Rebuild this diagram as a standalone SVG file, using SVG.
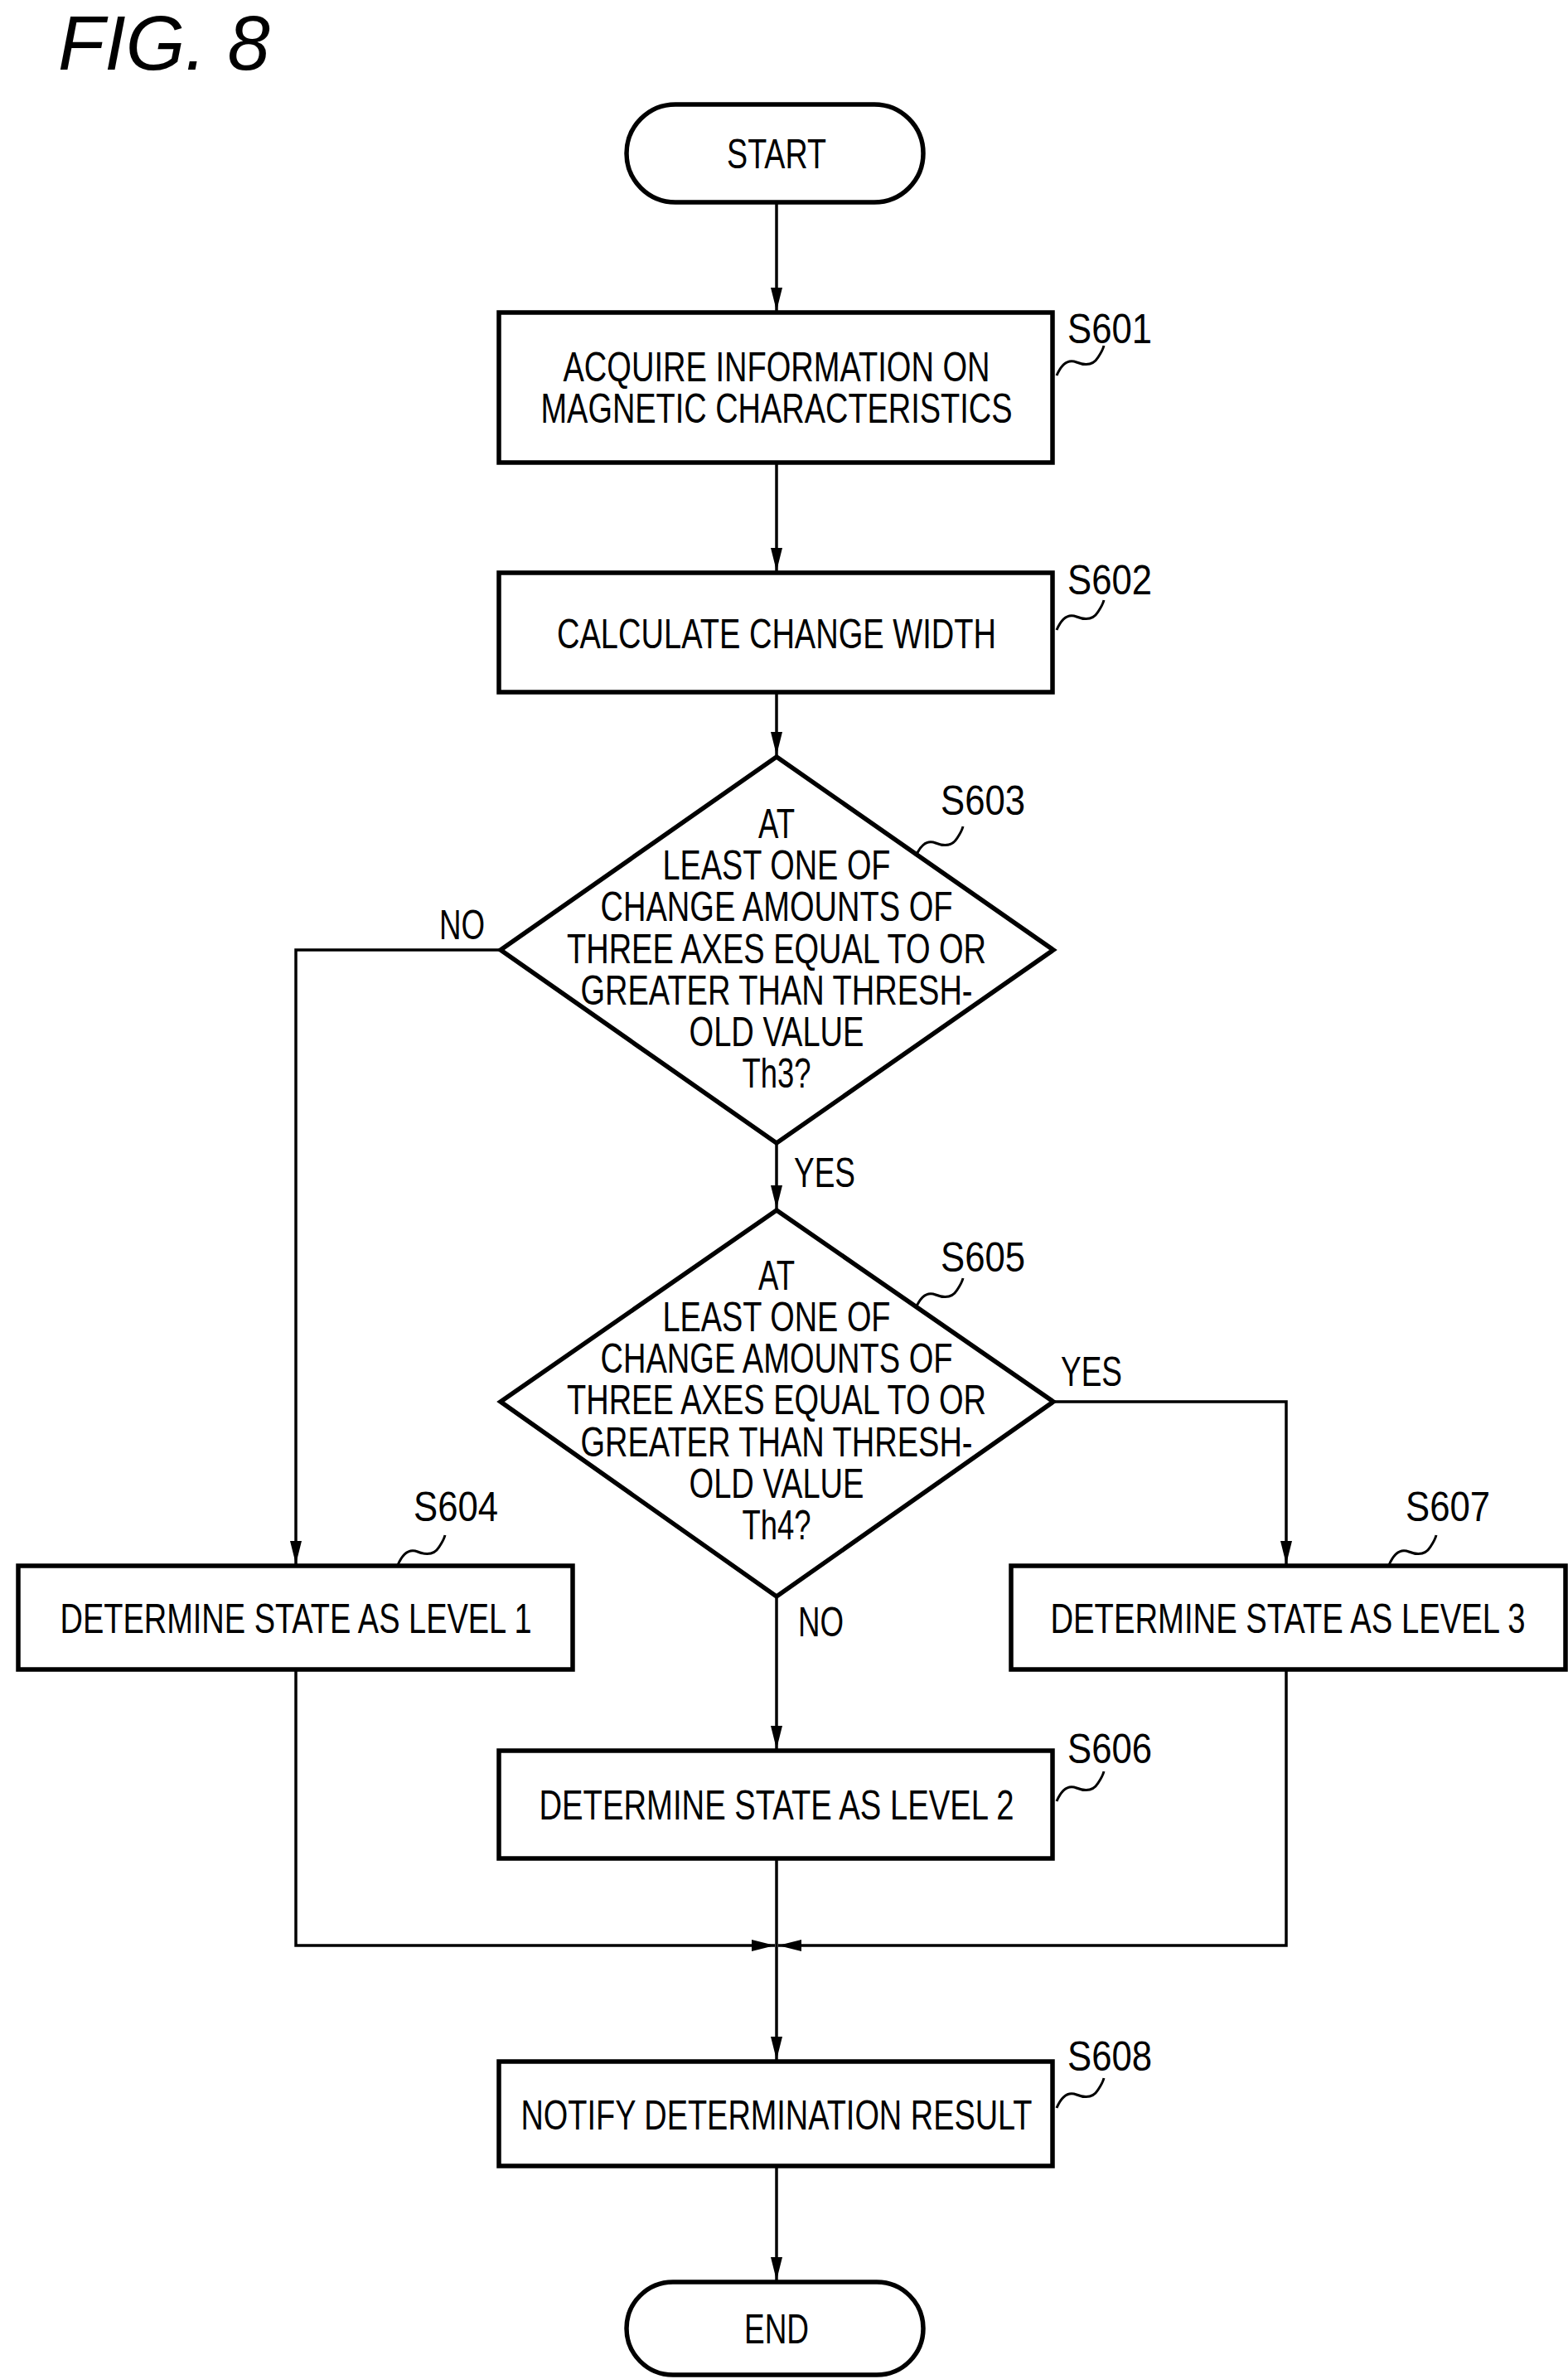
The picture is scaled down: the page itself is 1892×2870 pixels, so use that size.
<svg xmlns="http://www.w3.org/2000/svg" width="1892" height="2870" viewBox="0 0 1892 2870">
<defs>
<style>
.s{fill:#fff;stroke:#000;stroke-width:5.5}
.c{fill:none;stroke:#000;stroke-width:3.5}
.q{fill:none;stroke:#000;stroke-width:3}
text{font-family:"Liberation Sans",Arial,sans-serif;font-size:50px;fill:#000}
.m{text-anchor:middle}
</style>
<marker id="a" viewBox="0 0 10 10" refX="10" refY="5" markerWidth="6" markerHeight="6" markerUnits="userSpaceOnUse" orient="auto"><path d="M0,0L10,5L0,10z" fill="#000"/></marker>
<marker id="ar" viewBox="0 0 10 10" refX="10" refY="5" markerWidth="28" markerHeight="14" markerUnits="userSpaceOnUse" orient="auto" preserveAspectRatio="none"><path d="M0,0L10,5L0,10z" fill="#000"/></marker>
<path id="sq" d="M0,0 C6,-14 14,-20 24,-16 C34,-12 44,-12 50,-22 C54,-28 56,-32 57,-36"/>
</defs>
<rect width="1892" height="2870" fill="#fff"/>
<text x="70" y="84" style="font-size:92px;font-style:italic">FIG. 8</text>
<g id="connectors">
<path class="c" d="M937,244V375" marker-end="url(#ar)"/>
<path class="c" d="M937,558V689" marker-end="url(#ar)"/>
<path class="c" d="M937,835V911" marker-end="url(#ar)"/>
<path class="c" d="M937,1379V1458" marker-end="url(#ar)"/>
<path class="c" d="M604,1146H357V1887" marker-end="url(#ar)"/>
<path class="c" d="M1271,1691H1552V1887" marker-end="url(#ar)"/>
<path class="c" d="M937,1926V2110" marker-end="url(#ar)"/>
<path class="c" d="M357,2014V2347H935" marker-end="url(#ar)"/>
<path class="c" d="M1552,2014V2347H939" marker-end="url(#ar)"/>
<path class="c" d="M937,2242V2485" marker-end="url(#ar)"/>
<path class="c" d="M937,2613V2751" marker-end="url(#ar)"/>
<text x="958" y="1432" textLength="74" lengthAdjust="spacingAndGlyphs">YES</text>
<text x="530" y="1133" textLength="55" lengthAdjust="spacingAndGlyphs">NO</text>
<text x="1280" y="1672" textLength="74" lengthAdjust="spacingAndGlyphs">YES</text>
<text x="963" y="1974" textLength="55" lengthAdjust="spacingAndGlyphs">NO</text>
</g>
<g id="start"><rect class="s" x="756" y="126" width="358" height="118" rx="59"/><text class="m" x="937" y="203" textLength="120" lengthAdjust="spacingAndGlyphs">START</text></g>
<g id="s601"><rect class="s" x="602" y="377" width="668" height="181"/>
<text class="m" x="937" y="460" textLength="515" lengthAdjust="spacingAndGlyphs">ACQUIRE INFORMATION ON</text>
<text class="m" x="937" y="510" textLength="569" lengthAdjust="spacingAndGlyphs">MAGNETIC CHARACTERISTICS</text>
<use href="#sq" class="q" x="1275" y="453"/><text x="1288" y="414" textLength="102" lengthAdjust="spacingAndGlyphs">S601</text></g>
<g id="s602"><rect class="s" x="602" y="691" width="668" height="144"/>
<text class="m" x="937" y="782" textLength="530" lengthAdjust="spacingAndGlyphs">CALCULATE CHANGE WIDTH</text>
<use href="#sq" class="q" x="1275" y="760"/><text x="1288" y="717" textLength="102" lengthAdjust="spacingAndGlyphs">S602</text></g>
<g id="s603"><path class="s" d="M937,913L1271,1146L937,1379L604,1146Z"/>
<text class="m" x="937" y="1011" textLength="44" lengthAdjust="spacingAndGlyphs">AT</text>
<text class="m" x="937" y="1061" textLength="275" lengthAdjust="spacingAndGlyphs">LEAST ONE OF</text>
<text class="m" x="937" y="1111" textLength="425" lengthAdjust="spacingAndGlyphs">CHANGE AMOUNTS OF</text>
<text class="m" x="937" y="1162" textLength="506" lengthAdjust="spacingAndGlyphs">THREE AXES EQUAL TO OR</text>
<text class="m" x="937" y="1212" textLength="473" lengthAdjust="spacingAndGlyphs">GREATER THAN THRESH-</text>
<text class="m" x="937" y="1262" textLength="211" lengthAdjust="spacingAndGlyphs">OLD VALUE</text>
<text class="m" x="937" y="1312" textLength="83" lengthAdjust="spacingAndGlyphs">Th3?</text>
<use href="#sq" class="q" x="1105" y="1033"/><text x="1135" y="983" textLength="102" lengthAdjust="spacingAndGlyphs">S603</text></g>
<g id="s605"><path class="s" d="M937,1460L1271,1691L937,1926L604,1691Z"/>
<text class="m" x="937" y="1556" textLength="44" lengthAdjust="spacingAndGlyphs">AT</text>
<text class="m" x="937" y="1606" textLength="275" lengthAdjust="spacingAndGlyphs">LEAST ONE OF</text>
<text class="m" x="937" y="1656" textLength="425" lengthAdjust="spacingAndGlyphs">CHANGE AMOUNTS OF</text>
<text class="m" x="937" y="1706" textLength="506" lengthAdjust="spacingAndGlyphs">THREE AXES EQUAL TO OR</text>
<text class="m" x="937" y="1757" textLength="473" lengthAdjust="spacingAndGlyphs">GREATER THAN THRESH-</text>
<text class="m" x="937" y="1807" textLength="211" lengthAdjust="spacingAndGlyphs">OLD VALUE</text>
<text class="m" x="937" y="1857" textLength="83" lengthAdjust="spacingAndGlyphs">Th4?</text>
<use href="#sq" class="q" x="1105" y="1578"/><text x="1135" y="1534" textLength="102" lengthAdjust="spacingAndGlyphs">S605</text></g>
<g id="s604"><rect class="s" x="22" y="1889" width="669" height="125"/>
<text class="m" x="357" y="1970" textLength="569" lengthAdjust="spacingAndGlyphs">DETERMINE STATE AS LEVEL 1</text>
<use href="#sq" class="q" x="480" y="1888"/><text x="499" y="1835" textLength="102" lengthAdjust="spacingAndGlyphs">S604</text></g>
<g id="s607"><rect class="s" x="1220" y="1889" width="669" height="125"/>
<text class="m" x="1554" y="1970" textLength="573" lengthAdjust="spacingAndGlyphs">DETERMINE STATE AS LEVEL 3</text>
<use href="#sq" class="q" x="1676" y="1888"/><text x="1696" y="1835" textLength="102" lengthAdjust="spacingAndGlyphs">S607</text></g>
<g id="s606"><rect class="s" x="602" y="2112" width="668" height="130"/>
<text class="m" x="937" y="2195" textLength="573" lengthAdjust="spacingAndGlyphs">DETERMINE STATE AS LEVEL 2</text>
<use href="#sq" class="q" x="1275" y="2173"/><text x="1288" y="2127" textLength="102" lengthAdjust="spacingAndGlyphs">S606</text></g>
<g id="s608"><rect class="s" x="602" y="2487" width="668" height="126"/>
<text class="m" x="937" y="2569" textLength="617" lengthAdjust="spacingAndGlyphs">NOTIFY DETERMINATION RESULT</text>
<use href="#sq" class="q" x="1275" y="2543"/><text x="1288" y="2498" textLength="102" lengthAdjust="spacingAndGlyphs">S608</text></g>
<g id="end"><rect class="s" x="756" y="2753" width="358" height="112" rx="56"/><text class="m" x="937" y="2827" textLength="78" lengthAdjust="spacingAndGlyphs">END</text></g>
</svg>
